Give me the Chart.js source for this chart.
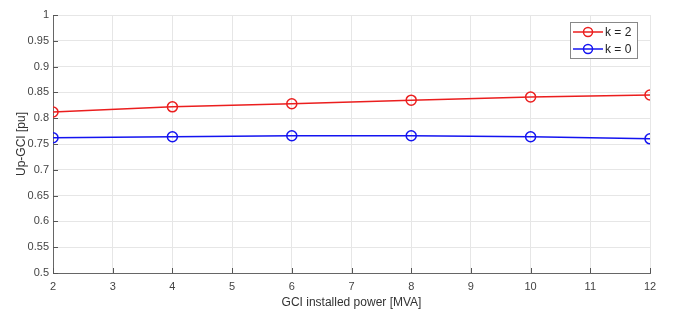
<!DOCTYPE html>
<html>
<head>
<meta charset="utf-8">
<script src="https://cdn.jsdelivr.net/npm/chart.js@4/dist/chart.umd.min.js"></script>
<style>
  html, body { margin: 0; padding: 0; background: #fff; }
  #wrap { width: 675px; height: 316px; position: relative; }
</style>
</head>
<body>
<div id="wrap"><canvas id="myChart" width="675" height="316"></canvas></div>
<script>
// GCI installed power [MVA]
const power = [2, 4, 6, 8, 10, 12];
// Up-GCI [pu]
const upK2 = [0.812, 0.822, 0.828, 0.835, 0.841, 0.845];
const upK0 = [0.762, 0.764, 0.766, 0.766, 0.764, 0.760];
const seriesLabels = ['k = 2', 'k = 0'];

const FONT = '"Liberation Sans", Arial, Helvetica, sans-serif';
const RED = 'rgb(235,30,30)';
const BLUE = 'rgb(20,20,240)';

function toPoints(xs, ys) {
    return xs.map(function(x, i) { return { x: x, y: ys[i] }; });
}

// MATLAB-style inward tick marks
const innerTicks = {
    id: 'innerTicks',
    afterDraw: function(chart) {
        var ctx = chart.ctx;
        var area = chart.chartArea;
        var xs = chart.scales.x, ys = chart.scales.y;
        ctx.save();
        ctx.strokeStyle = '#555';
        ctx.lineWidth = 1;
        ctx.beginPath();
        xs.ticks.forEach(function(t) {
            var px = Math.round(xs.getPixelForValue(t.value)) + 0.5;
            ctx.moveTo(px, area.bottom);
            ctx.lineTo(px, area.bottom - 5);
        });
        ys.ticks.forEach(function(t) {
            var py = Math.round(ys.getPixelForValue(t.value)) + 0.5;
            ctx.moveTo(area.left, py);
            ctx.lineTo(area.left + 5, py);
        });
        ctx.stroke();
        ctx.restore();
    }
};

// legend box inside the plot, top right
const boxLegend = {
    id: 'boxLegend',
    afterDraw: function(chart) {
        var ctx = chart.ctx;
        var area = chart.chartArea;
        var w = 67, h = 36;
        var x0 = area.right - 80, y0 = area.top + 7;
        ctx.save();
        ctx.fillStyle = '#fff';
        ctx.fillRect(x0, y0, w, h);
        ctx.strokeStyle = '#888';
        ctx.lineWidth = 1;
        ctx.strokeRect(x0 + 0.5, y0 + 0.5, w, h);
        ctx.font = '12px ' + FONT;
        ctx.textBaseline = 'middle';
        chart.data.datasets.forEach(function(ds, i) {
            var cy = y0 + 10 + i * 17;
            ctx.strokeStyle = ds.borderColor;
            ctx.lineWidth = 1.5;
            ctx.beginPath();
            ctx.moveTo(x0 + 3, cy);
            ctx.lineTo(x0 + 33, cy);
            ctx.stroke();
            ctx.beginPath();
            ctx.arc(x0 + 18, cy, 4.5, 0, Math.PI * 2);
            ctx.stroke();
            ctx.fillStyle = '#222';
            ctx.fillText(ds.label, x0 + 35, cy + 1);
        });
        ctx.restore();
    }
};

var ctx = document.getElementById('myChart').getContext('2d');
new Chart(ctx, {
    type: 'line',
    data: {
        datasets: [{
            label: seriesLabels[0],
            data: toPoints(power, upK2),
            borderColor: RED,
            borderWidth: 1.5,
            pointRadius: 5,
            pointBorderWidth: 1.5,
            pointBackgroundColor: 'rgba(0,0,0,0)',
            pointBorderColor: RED,
            tension: 0
        }, {
            label: seriesLabels[1],
            data: toPoints(power, upK0),
            borderColor: BLUE,
            borderWidth: 1.5,
            pointRadius: 5,
            pointBorderWidth: 1.5,
            pointBackgroundColor: 'rgba(0,0,0,0)',
            pointBorderColor: BLUE,
            tension: 0
        }]
    },
    options: {
        responsive: false,
        animation: false,
        layout: { padding: { top: 15, right: 25, left: 14, bottom: 6 } },
        plugins: {
            legend: { display: false },
            tooltip: { enabled: false }
        },
        scales: {
            x: {
                type: 'linear',
                min: 2,
                max: 12,
                afterFit: function(scale) { scale.height = 37; },
                ticks: {
                    stepSize: 1,
                    color: '#444',
                    font: { family: FONT, size: 11 },
                    padding: 7
                },
                grid: { color: '#e6e6e6', drawTicks: false },
                border: { color: '#666', width: 1 },
                title: {
                    display: true,
                    text: 'GCI installed power [MVA]',
                    color: '#333',
                    font: { family: FONT, size: 12 },
                    padding: { top: 0, bottom: 0 }
                }
            },
            y: {
                min: 0.5,
                max: 1,
                afterFit: function(scale) { scale.width = 39; },
                ticks: {
                    stepSize: 0.05,
                    color: '#444',
                    font: { family: FONT, size: 11 },
                    padding: 4,
                    callback: function(v) { return String(Number(v.toFixed(2))); }
                },
                grid: { color: '#e6e6e6', drawTicks: false },
                border: { color: '#666', width: 1 },
                title: {
                    display: true,
                    text: 'Up-GCI [pu]',
                    color: '#333',
                    font: { family: FONT, size: 12 },
                    padding: { top: 0, bottom: 0 }
                }
            }
        }
    },
    plugins: [innerTicks, boxLegend]
});
</script>
</body>
</html>
